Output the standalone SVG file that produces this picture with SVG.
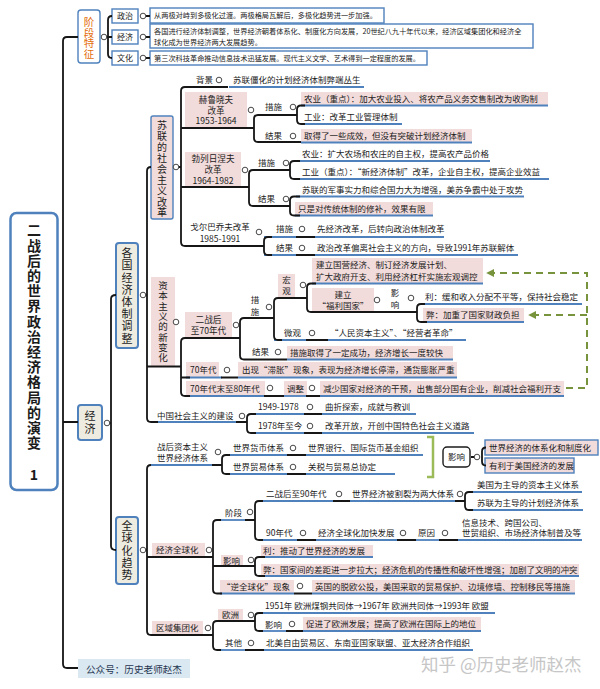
<svg xmlns="http://www.w3.org/2000/svg" width="600" height="689" viewBox="0 0 600 689">
<defs>
<style>
text{font-family:'Noto Sans CJK SC','Noto Sans',sans-serif;font-size:8.5px;fill:#1b1b1b}
.s{font-size:7.2px;fill:#222}
.m{text-anchor:middle}
.v{writing-mode:vertical-rl}
.f9{font-size:8.6px}
.ul{stroke:#4f81bd;stroke-width:1.8;fill:none}
.k{stroke:#161616;stroke-width:1.8;fill:none}
.d{fill:#fff;stroke:#333;stroke-width:0.9}
.pk{fill:#f2dcdb}
.bx{fill:#fff;stroke:#4f81bd;stroke-width:1.4}
.bp{fill:#f2dcdb;stroke:#4f81bd;stroke-width:1.4}
.bg{fill:#eeece1;stroke:#4f81bd;stroke-width:2}
.gd{stroke:#77933c;stroke-width:2;stroke-dasharray:7 5;fill:none}
</style>
<marker id="ga" viewBox="0 0 10 10" refX="9" refY="5" markerWidth="4" markerHeight="4" orient="auto"><path d="M0,0L10,5L0,10z" fill="#77933c"/></marker>
</defs>
<rect width="600" height="689" fill="#fff"/>

<g id="title">
<rect x="10.5" y="213" width="47" height="277" rx="6" fill="#fff" stroke="#4f81bd" stroke-width="2.5"/>
<text class="v" x="34" y="223" style="font-size:14px;font-weight:bold;letter-spacing:1.2px">二战后的世界政治经济格局的演变</text>
<text class="m" x="34" y="480" style="font-size:14px;font-weight:bold">1</text>
</g>

<g id="stage">
<rect x="78" y="10" width="22" height="53" rx="3" class="bx"/>
<text class="v" x="89" y="16.8" style="font-size:10.5px;fill:#e46c0a">阶段特征</text>
</g>
<g id="stage-pol">
<rect x="112" y="9" width="26" height="14" class="bx"/><text class="m" x="125" y="19" style="font-size:8px">政治</text>
<rect x="150" y="8" width="234" height="15" class="bx"/><text class="s" x="154" y="18.3">从两极对峙到多极化过渡。两极格局瓦解后，多极化趋势进一步加强。</text>
</g>
<g id="stage-eco">
<rect x="112" y="30" width="26" height="14" class="bx"/><text class="m" x="125" y="40" style="font-size:8px">经济</text>
<rect x="150" y="24" width="383" height="24" class="bx"/><text class="s" x="154" y="33.7">各国进行经济体制调整，世界经济朝着体系化、制度化方向发展，20世纪八九十年代以来，经济区域集团化和经济全</text><text class="s" x="154" y="44.7">球化成为世界经济两大发展趋势。</text>
</g>
<g id="stage-cul">
<rect x="112" y="51" width="26" height="14" class="bx"/><text class="m" x="125" y="61" style="font-size:8px">文化</text>
<rect x="150" y="51" width="277" height="14" class="bx"/><text class="s" x="154" y="60.7">第三次科技革命推动信息技术迅猛发展。现代主义文学、艺术得到一定程度的发展。</text>
</g>

<g id="econ">
<rect x="78" y="405" width="24" height="35" rx="3" class="bg"/>
<text class="v" x="90" y="410.5" style="font-size:11px;letter-spacing:2px">经济</text>
</g>
<g id="adjust">
<rect x="116" y="243" width="22" height="105" rx="3" class="bg"/>
<text class="v" x="127" y="247.5" style="font-size:11px;letter-spacing:1.2px">各国经济体制调整</text>
</g>
<g id="globe">
<rect x="116" y="517" width="22" height="67" rx="3" class="bg"/>
<text class="v" x="127" y="520.5" style="font-size:11px;letter-spacing:1.25px">全球化趋势</text>
</g>

<g id="ussr">
<rect x="151" y="116" width="22" height="103" rx="2" class="bp"/>
<text class="v" x="162" y="120.5" style="font-size:10px;letter-spacing:0.9px">苏联的社会主义改革</text>
</g>
<g id="ussr-bg"><text x="196" y="83">背景</text></g>
<g id="ussr-bg-1"><text x="233" y="83">苏联僵化的计划经济体制弊端丛生</text><path class="ul" d="M229,87H364"/></g>

<g id="khr">
<rect x="185" y="92" width="62" height="36" class="pk"/>
<text class="m f9"><tspan x="216" y="102.8">赫鲁晓夫</tspan><tspan x="216" y="113.6">改革</tspan><tspan x="216" y="124.4">1953-1964</tspan></text>
</g>
<g id="khr-m"><text x="265" y="110">措施</text></g>
<g id="khr-m-1"><rect x="301" y="92" width="247" height="13.5" class="pk"/><text x="304" y="101.8">农业（重点）：加大农业投入、将农产品义务交售制改为收购制</text><path class="ul" d="M301,105.5H548"/></g>
<g id="khr-m-2"><text x="304" y="120">工业：改革工业管理体制</text><path class="ul" d="M301,124H402"/></g>
<g id="khr-r"><text x="265" y="139">结果</text></g>
<g id="khr-r-1"><rect x="301" y="129" width="171" height="13.5" class="pk"/><text x="304" y="138.8">取得了一些成效，但没有突破计划经济体制</text><path class="ul" d="M301,142.5H472"/></g>

<g id="brz">
<rect x="185" y="152" width="56" height="35" class="pk"/>
<text class="m f9"><tspan x="213" y="162">勃列日涅夫</tspan><tspan x="213" y="173">改革</tspan><tspan x="213" y="184">1964-1982</tspan></text>
</g>
<g id="brz-m"><text x="258" y="166">措施</text></g>
<g id="brz-m-1"><text x="302" y="157">农业：扩大农场和农庄的自主权，提高农产品价格</text><path class="ul" d="M296,161H490"/></g>
<g id="brz-m-2"><text x="302" y="175">工业（重点）：“新经济体制”改革，企业自主权，提高企业效益</text><path class="ul" d="M296,179H549"/></g>
<g id="brz-r"><text x="258" y="202">结果</text></g>
<g id="brz-r-1"><text x="302" y="193">苏联的军事实力和综合国力大为增强，美苏争霸中处于攻势</text><path class="ul" d="M296,196.5H524"/></g>
<g id="brz-r-2"><rect x="295" y="202" width="138" height="13.5" class="pk"/><text x="298" y="211.8">只是对传统体制的修补，效果有限</text><path class="ul" d="M295,215.5H433"/></g>

<g id="gor"><text class="m"><tspan x="220" y="230">戈尔巴乔夫改革</tspan><tspan x="220" y="241.5">1985-1991</tspan></text></g>
<g id="gor-m"><text x="276" y="232">措施</text><path class="ul" d="M264,237H313"/></g>
<g id="gor-m-1"><text x="317" y="232">先经济改革，后转向政治体制改革</text><path class="ul" d="M313,237H444"/></g>
<g id="gor-r"><text x="276" y="251">结果</text><path class="ul" d="M264,255H313"/></g>
<g id="gor-r-1"><text x="317" y="251">政治改革偏离社会主义的方向，导致1991年苏联解体</text><path class="ul" d="M313,255H518"/></g>

<g id="cap">
<rect x="151" y="277" width="24" height="89" class="pk"/>
<text class="v" x="163" y="280.8" style="font-size:9.5px;letter-spacing:0.8px">资本主义的新变化</text>
</g>
<g id="cap-a">
<rect x="185" y="312" width="47" height="26" class="pk"/>
<text class="m f9"><tspan x="208.5" y="323">二战后</tspan><tspan x="208.5" y="334.2">至70年代</tspan></text>
</g>
<g id="cap-a-m"><text class="v" x="255" y="295.8" style="letter-spacing:3.5px">措施</text></g>
<g id="macro"><rect x="278" y="274" width="17" height="24" class="pk"/><text class="v" x="286.5" y="275.8" style="letter-spacing:2.5px">宏观</text></g>
<g id="macro-1"><rect x="312" y="258" width="171" height="25.5" class="pk"/><text x="316" y="268">建立国营经济、制订经济发展计划、</text><text x="316" y="279.5">扩大政府开支、利用经济杠杆实施宏观调控</text><path class="ul" d="M312,283.5H483"/></g>
<g id="welfare"><rect x="312" y="288" width="62" height="24" class="pk"/><text class="m"><tspan x="343" y="298">建立</tspan><tspan x="343" y="309">“福利国家”</tspan></text></g>
<g id="welfare-i"><text class="v" x="395" y="288.8" style="letter-spacing:3.5px">影响</text></g>
<g id="welfare-i-1"><text x="425" y="300">利：缓和收入分配不平等，保持社会稳定</text><path class="ul" d="M421,304H582"/></g>
<g id="welfare-i-2"><rect x="423" y="308" width="101" height="14" class="pk"/><text x="426" y="318">弊：加重了国家财政负担</text><path class="ul" d="M423,322H524"/></g>
<g id="micro"><text x="284" y="336">微观</text><path class="ul" d="M274,340H326"/></g>
<g id="micro-1"><text x="330" y="336">“人民资本主义”、“经营者革命”</text><path class="ul" d="M326,340H466"/></g>
<g id="cap-a-r"><text x="252" y="355">结果</text></g>
<g id="cap-a-r-1"><rect x="287" y="346" width="166" height="13.5" class="pk"/><text x="290" y="355.8">措施取得了一定成功，经济增长一度较快</text><path class="ul" d="M287,359.5H453"/></g>
<g id="cap-b"><rect x="186" y="362" width="33" height="15.5" class="pk"/><text x="190" y="373">70年代</text><path class="ul" d="M186,377.5H222"/></g>
<g id="cap-b-1"><rect x="238" y="362" width="219" height="15.5" class="pk"/><text x="242" y="373">出现“滞胀”现象，表现为经济增长停滞，通货膨胀严重</text><path class="ul" d="M238,377.5H457"/></g>
<g id="cap-c"><rect x="186" y="381" width="79" height="15" class="pk"/><text x="190" y="391.5">70年代末至80年代</text><path class="ul" d="M186,396H265"/></g>
<g id="cap-c-1"><rect x="284" y="381" width="23" height="15" class="pk"/><text x="287" y="391.5">调整</text><path class="ul" d="M284,396H307"/></g>
<g id="cap-c-2"><rect x="320" y="381" width="244" height="15" class="pk"/><text x="323" y="391.5">减少国家对经济的干预，出售部分国有企业，削减社会福利开支</text><path class="ul" d="M320,396H564"/></g>

<g id="china"><text x="157" y="419">中国社会主义的建设</text><path class="ul" d="M151,422H236"/></g>
<g id="china-1"><text x="258" y="410">1949-1978</text><path class="ul" d="M252,414H304"/></g>
<g id="china-1-1"><text x="325" y="410">曲折探索，成就与教训</text><path class="ul" d="M322,414H416"/></g>
<g id="china-2"><text x="258" y="429">1978年至今</text><path class="ul" d="M252,433H304"/></g>
<g id="china-2-1"><text x="325" y="429">改革开放，开创中国特色社会主义道路</text><path class="ul" d="M322,433H474"/></g>

<g id="post"><text x="157" y="450">战后资本主义</text><text x="157" y="461">世界经济体系</text><path class="ul" d="M151,465H212"/></g>
<g id="post-1"><text x="233" y="451">世界货币体系</text><path class="ul" d="M226,455H287"/></g>
<g id="post-1-1"><text x="308" y="451">世界银行、国际货币基金组织</text><path class="ul" d="M306,455H423"/></g>
<g id="post-2"><text x="233" y="470">世界贸易体系</text><path class="ul" d="M226,474H287"/></g>
<g id="post-2-1"><text x="308" y="470">关税与贸易总协定</text><path class="ul" d="M306,474H395"/></g>
<g id="post-impact">
<path d="M427,437H433V477H427" fill="none" stroke="#9bbb59" stroke-width="2.5"/>
<rect x="443" y="447" width="27" height="20" rx="4" fill="#fff" stroke="#1b1b1b" stroke-width="1.4"/><text class="m" x="456.5" y="460">影响</text>
</g>
<g id="post-impact-1"><rect x="485" y="440" width="113" height="15" class="bp"/><text x="489" y="450.8">世界经济的体系化和制度化</text></g>
<g id="post-impact-2"><rect x="485" y="458" width="89" height="15" class="bp"/><text x="489" y="468.8">有利于美国经济的发展</text></g>

<g id="eg"><rect x="152" y="543" width="53" height="14" class="pk"/><text x="156" y="553">经济全球化</text></g>
<g id="eg-stage"><text x="225" y="516">阶段</text><path class="ul" d="M217,520H245"/></g>
<g id="eg-stage-1"><text x="266" y="497">二战后至90年代</text><path class="ul" d="M259,501H333"/></g>
<g id="eg-stage-1-1"><text x="352" y="497">世界经济被割裂为两大体系</text><path class="ul" d="M350,501H455"/></g>
<g id="eg-stage-1-1-a"><text x="477" y="488">美国为主导的资本主义体系</text><path class="ul" d="M469,492H582"/></g>
<g id="eg-stage-1-1-b"><text x="477" y="506">苏联为主导的计划经济体系</text><path class="ul" d="M469,510H583"/></g>
<g id="eg-stage-2"><text x="266" y="536">90年代</text><path class="ul" d="M259,540H297"/></g>
<g id="eg-stage-2-1"><text x="318" y="536">经济全球化加快发展</text><path class="ul" d="M316,540H397"/></g>
<g id="eg-stage-2-2"><text x="418" y="536">原因</text><path class="ul" d="M416,540H439"/></g>
<g id="eg-stage-2-3"><text x="462" y="525.5">信息技术、跨国公司、</text><text x="462" y="536">世贸组织、市场经济体制普及等</text><path class="ul" d="M458,540H582"/></g>
<g id="eg-impact"><rect x="221" y="555" width="22" height="11" class="pk"/><text x="223" y="563.5">影响</text></g>
<g id="eg-impact-1"><rect x="261" y="545" width="112" height="12" class="pk"/><text x="263" y="554.3">利：推动了世界经济的发展</text><path class="ul" d="M261,557H373"/></g>
<g id="eg-impact-2"><rect x="261" y="564" width="318" height="12" class="pk"/><text x="263" y="573.3">弊：国家间的差距进一步拉大；经济危机的传播性和破坏性增强；加剧了文明的冲突</text><path class="ul" d="M261,576H579"/></g>
<g id="eg-anti"><rect x="220" y="580" width="74" height="13.5" class="pk"/><text x="222" y="589.8">“逆全球化”现象</text><path class="ul" d="M220,593.5H294"/></g>
<g id="eg-anti-1"><rect x="312" y="580" width="263" height="13.5" class="pk"/><text x="315" y="589.8">英国的脱欧公投，美国采取的贸易保护、边境修墙、控制移民等措施</text><path class="ul" d="M312,593.5H575"/></g>

<g id="reg"><rect x="152" y="621" width="51" height="14" class="pk"/><text x="156" y="631">区域集团化</text></g>
<g id="reg-eu"><rect x="218" y="609" width="25" height="12" class="pk"/><text x="222" y="618.3">欧洲</text></g>
<g id="reg-eu-1"><text x="265" y="609">1951年 欧洲煤钢共同体→1967年 欧洲共同体→1993年 欧盟</text><path class="ul" d="M259,613H495"/></g>
<g id="reg-eu-2"><text x="265" y="627.5">影响</text><path class="ul" d="M259,631H286"/></g>
<g id="reg-eu-2-1"><rect x="303" y="617" width="178" height="14" class="pk"/><text x="306" y="627">促进了欧洲发展；提高了欧洲在国际上的地位</text><path class="ul" d="M303,631H481"/></g>
<g id="reg-other"><text x="225" y="646">其他</text><path class="ul" d="M217,650H245"/></g>
<g id="reg-other-1"><text x="266" y="646">北美自由贸易区、东南亚国家联盟、亚太经济合作组织</text><path class="ul" d="M264,650H473"/></g>

<g id="wechat"><rect x="78" y="659" width="112" height="19" fill="#dae8f2"/><text x="86" y="672.5" style="font-size:9.6px;fill:#1f3550">公众号：历史老师赵杰</text></g>
<g id="watermark"><text x="421" y="671" style="font-size:17.5px;fill:#c6c6c6">知乎 @历史老师赵杰</text></g>

<g id="connectors">
<path class="k" d="M78,37H67Q63,37 63,41V664Q63,668 67,668H78M63,422H78"/>
<path class="k" d="M104,37H112M112,16Q108,16 108,20V54Q108,58 112,58M146,16H150M146,37H150M146,58H150"/>
<path class="k" d="M107,423H111M116,295Q111,295 111,299V546Q111,550 116,550"/>
<path class="k" d="M143,295H147M151,167Q147,167 147,171V418Q147,422 151,422H158M147,366.5H181"/>
<path class="k" d="M228,87H185Q181,87 181,91V242Q181,246 185,246H264M176,167H181M181,128H254M181,187H249"/>
<path class="k" d="M297,115H258Q254,115 254,119V138Q254,142 258,142H301M305,105.5H301Q297,105.5 297,109.5V120Q297,124 301,124H305"/>
<path class="k" d="M290,170H253Q249,170 249,174V202Q249,206 253,206H290M300,161H294Q290,161 290,165V175Q290,179 294,179H300M300,196.5H294Q290,196.5 290,200.5V211.5Q290,215.5 294,215.5H300"/>
<path class="k" d="M272,237H268Q264,237 264,241V251Q264,255 268,255H272M296,237H315M296,255H315"/>
<path class="k" d="M240,338H185Q181,338 181,342V392Q181,396 185,396H190M181,377.5H190M274,318H244Q240,318 240,322V355.5Q240,359.5 244,359.5H287M307,298H278Q274,298 274,302V336Q274,340 278,340H282M306,340H328M316,283.5H311Q307,283.5 307,287.5V308Q307,312 311,312H417M425,304H421Q417,304 417,308V318Q417,322 421,322H427M221,377.5H238M264,396H284M306,396H320"/>
<path class="k" d="M236,422H247M256,414H251Q247,414 247,418V429Q247,433 251,433H256M304,414H322M304,433H322"/>
<path class="k" d="M143,550H147M151,465Q147,465 147,469V631Q147,635 151,635H213M147,557H213M212,465H222M230,455H226Q222,455 222,459V470Q222,474 226,474H230M287,455H306M287,474H306"/>
<path class="k" d="M221,520H217Q213,520 213,524V589.5Q213,593.5 217,593.5H222M213,566H255M263,501H259Q255,501 255,505V536Q255,540 259,540H263M245,520H255M333,501H350M455,501H465M473,492H469Q465,492 465,496V506Q465,510 469,510H473M297,540H316M397,540H416M439,540H458M265,557H259Q255,557 255,561V572Q255,576 259,576H265M294,593.5H312"/>
<path class="k" d="M255,621H217Q213,621 213,625V646Q213,650 217,650H221M263,613H259Q255,613 255,617V627Q255,631 259,631H263M286,631H303M245,650H264"/>
<path class="k" d="M471,457H477M486,447.5Q482,447.5 482,451.5V461.5Q482,465.5 486,465.5"/>
<path class="gd" d="M566,388H587V273H487" marker-end="url(#ga)"/>
<path class="gd" d="M587,315H529" marker-end="url(#ga)"/>
<g class="d">
<circle cx="104" cy="37" r="2.8"/><circle cx="143" cy="16" r="2.8"/><circle cx="143" cy="37" r="2.8"/><circle cx="143" cy="58" r="2.8"/>
<circle cx="107" cy="423" r="2.8"/><circle cx="143" cy="295" r="2.8"/><circle cx="143" cy="550" r="2.8"/><circle cx="176" cy="167" r="2.8"/>
<circle cx="219" cy="80" r="2.8"/><circle cx="251" cy="110" r="2.8"/><circle cx="293" cy="107" r="2.8"/><circle cx="293" cy="136" r="2.8"/>
<circle cx="245" cy="170" r="2.8"/><circle cx="286" cy="163" r="2.8"/><circle cx="286" cy="199" r="2.8"/>
<circle cx="259" cy="232" r="2.8"/><circle cx="302" cy="229" r="2.8"/><circle cx="302" cy="248" r="2.8"/>
<circle cx="176" cy="322" r="2.8"/><circle cx="236" cy="325" r="2.8"/><circle cx="269" cy="307" r="2.8"/><circle cx="303" cy="285" r="2.8"/>
<circle cx="377" cy="300" r="2.8"/><circle cx="411" cy="298" r="2.8"/><circle cx="312" cy="333" r="2.8"/><circle cx="278" cy="352" r="2.8"/>
<circle cx="227" cy="370" r="2.8"/><circle cx="270" cy="388" r="2.8"/><circle cx="312" cy="388" r="2.8"/>
<circle cx="242" cy="416" r="2.8"/><circle cx="310" cy="407" r="2.8"/><circle cx="310" cy="426" r="2.8"/>
<circle cx="218" cy="452" r="2.8"/><circle cx="293" cy="448" r="2.8"/><circle cx="293" cy="467" r="2.8"/><circle cx="477" cy="457" r="2.8"/>
<circle cx="209" cy="550" r="2.8"/><circle cx="250" cy="512" r="2.8"/><circle cx="339" cy="494" r="2.8"/><circle cx="460" cy="494" r="2.8"/>
<circle cx="303" cy="533" r="2.8"/><circle cx="403" cy="533" r="2.8"/><circle cx="445" cy="533" r="2.8"/><circle cx="251" cy="560" r="2.8"/><circle cx="300" cy="586" r="2.8"/>
<circle cx="208" cy="628" r="2.8"/><circle cx="251" cy="615" r="2.8"/><circle cx="292" cy="624" r="2.8"/><circle cx="251" cy="643" r="2.8"/>
</g>
</g>
</svg>
